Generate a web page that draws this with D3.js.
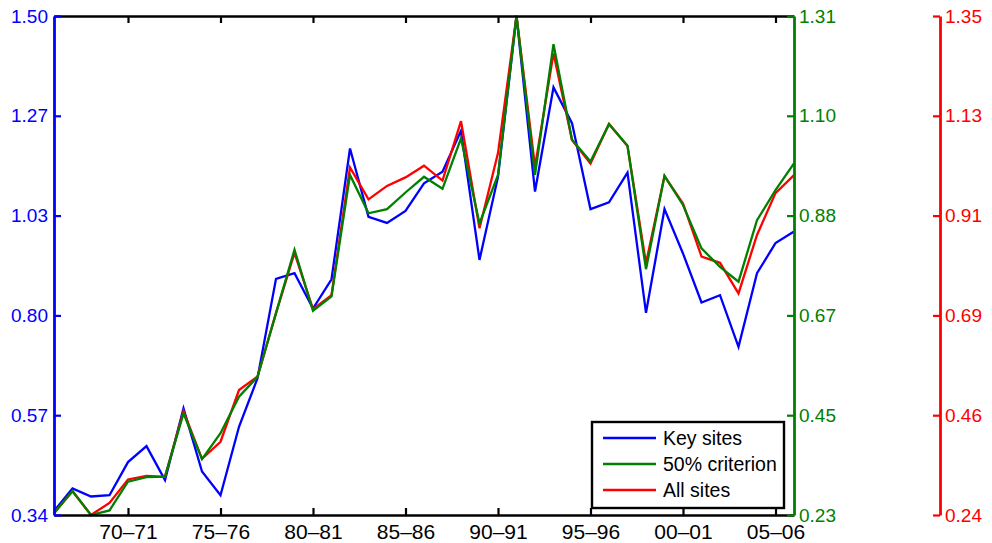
<!DOCTYPE html>
<html><head><meta charset="utf-8">
<script src="https://cdn.jsdelivr.net/npm/d3@7"></script>
<style>body{margin:0;background:#fff}svg{display:block}</style>
</head><body><svg id="c" width="992" height="543"></svg>
<script>
// ---- data ----
const years = d3.range(1966, 2007); // season start years 66–67 ... 06–07
const keySites = [0.349,0.402,0.383,0.386,0.463,0.500,0.421,0.588,0.441,0.386,0.545,0.658,0.889,0.902,0.820,0.888,1.192,1.033,1.019,1.047,1.111,1.138,1.233,0.933,1.126,1.500,1.092,1.334,1.251,1.051,1.067,1.136,0.810,1.051,0.948,0.834,0.851,0.731,0.902,0.972,0.999];
const criterion50 = [0.234,0.282,0.230,0.240,0.302,0.312,0.313,0.450,0.351,0.407,0.486,0.529,0.667,0.804,0.672,0.703,0.966,0.883,0.892,0.928,0.962,0.936,1.045,0.861,0.966,1.310,0.966,1.249,1.042,0.995,1.076,1.029,0.762,0.964,0.901,0.807,0.767,0.735,0.868,0.933,0.991];
const allSites = [0.244,0.293,0.240,0.267,0.319,0.327,0.325,0.471,0.365,0.403,0.518,0.548,0.689,0.823,0.698,0.729,1.013,0.942,0.972,0.991,1.017,0.984,1.116,0.878,1.045,1.350,1.015,1.267,1.074,1.022,1.110,1.061,0.800,0.994,0.933,0.815,0.801,0.733,0.863,0.956,0.996];
const xTickYears = [1970,1975,1980,1985,1990,1995,2000,2005];
const xTickLabels = ["70–71","75–76","80–81","85–86","90–91","95–96","00–01","05–06"];
const blueTickLabels = ["0.34","0.57","0.80","1.03","1.27","1.50"];
const greenTickLabels = ["0.23","0.45","0.67","0.88","1.10","1.31"];
const redTickLabels = ["0.24","0.46","0.69","0.91","1.13","1.35"];
const legendLabels = ["Key sites","50% criterion","All sites"];

// ---- layout ----
const L = 54, R = 794, T = 16, B = 515, RED_X = 940;
const FONT = "'Liberation Sans', Arial, Helvetica, sans-serif";
const BLUE = "#0000ff", GREEN = "#008000", RED = "#ff0000";
const TICK = 7;
const svg = d3.select("#c");

const x = d3.scaleLinear().domain([1966, 2006]).range([L, R]);
const yBlue = d3.scaleLinear().domain([+blueTickLabels[0], +blueTickLabels[5]]).range([B, T]);
const yGreen = d3.scaleLinear().domain([+greenTickLabels[0], +greenTickLabels[5]]).range([B, T]);
const yRed = d3.scaleLinear().domain([+redTickLabels[0], +redTickLabels[5]]).range([B, T]);

function eqTicks(s){ const [a,b]=s.domain(); return d3.range(6).map(k=>a+k*(b-a)/5); }

// data lines
const series = [
  {vals:keySites, y:yBlue, color:BLUE},
  {vals:allSites, y:yRed, color:RED},
  {vals:criterion50, y:yGreen, color:GREEN}
];
series.forEach(s=>{
  const line = d3.line().x((d,i)=>x(years[i])).y(d=>s.y(d));
  svg.append("path").datum(s.vals).attr("d", line)
    .attr("fill","none").attr("stroke", s.color).attr("stroke-width", 2.3)
    .attr("stroke-linejoin","miter");
});

// bottom x axis (ticks inward)
const xb = svg.append("g").attr("transform",`translate(0,${B})`)
  .call(d3.axisBottom(x).tickValues(xTickYears).tickSize(-TICK).tickSizeOuter(0)
    .tickFormat((d,i)=>xTickLabels[i]));
xb.select(".domain").attr("stroke","#000").attr("stroke-width",2.4);
xb.selectAll(".tick line").attr("stroke","#000").attr("stroke-width",2.2);
xb.selectAll(".tick text").attr("font-family",FONT).attr("font-size",21).attr("fill","#000")
  .attr("y",24).attr("dy",null);

// top x axis (ticks inward)
const xt = svg.append("g").attr("transform",`translate(0,${T})`)
  .call(d3.axisTop(x).tickValues(xTickYears).tickSize(-TICK).tickSizeOuter(0).tickFormat(""));
xt.select(".domain").attr("stroke","#000").attr("stroke-width",2.4);
xt.selectAll(".tick line").attr("stroke","#000").attr("stroke-width",2.2);

// left blue axis (ticks inward)
const yl = svg.append("g").attr("transform",`translate(${L},0)`)
  .call(d3.axisLeft(yBlue).tickValues(eqTicks(yBlue)).tickSize(-TICK).tickSizeOuter(0)
    .tickFormat((d,i)=>blueTickLabels[i]));
yl.select(".domain").attr("stroke",BLUE).attr("stroke-width",2.8);
yl.selectAll(".tick line").attr("stroke",BLUE).attr("stroke-width",2.2);
yl.selectAll(".tick text").attr("font-family",FONT).attr("font-size",19).attr("fill",BLUE).attr("x",-6);

// green axis (ticks inward)
const yg = svg.append("g").attr("transform",`translate(${R},0)`)
  .call(d3.axisRight(yGreen).tickValues(eqTicks(yGreen)).tickSize(-TICK).tickSizeOuter(0)
    .tickFormat((d,i)=>greenTickLabels[i]));
yg.select(".domain").attr("stroke",GREEN).attr("stroke-width",2.8);
yg.selectAll(".tick line").attr("stroke",GREEN).attr("stroke-width",2.2);
yg.selectAll(".tick text").attr("font-family",FONT).attr("font-size",19).attr("fill",GREEN).attr("x",5);

// red axis (ticks left)
const yr = svg.append("g").attr("transform",`translate(${RED_X},0)`)
  .call(d3.axisRight(yRed).tickValues(eqTicks(yRed)).tickSize(-TICK).tickSizeOuter(0)
    .tickFormat((d,i)=>redTickLabels[i]));
yr.select(".domain").attr("stroke",RED).attr("stroke-width",2.8);
yr.selectAll(".tick line").attr("stroke",RED).attr("stroke-width",2.2);
yr.selectAll(".tick text").attr("font-family",FONT).attr("font-size",19).attr("fill",RED).attr("x",5);

// legend
const lg = svg.append("g");
lg.append("rect").attr("x",592).attr("y",422).attr("width",192).attr("height",86)
  .attr("fill","#fff").attr("stroke","#000").attr("stroke-width",2.4);
const legColors = [BLUE, GREEN, RED];
legendLabels.forEach((t,i)=>{
  const yy = 438 + i*26;
  lg.append("line").attr("x1",603).attr("x2",656).attr("y1",yy).attr("y2",yy)
    .attr("stroke",legColors[i]).attr("stroke-width",2.3);
  lg.append("text").attr("x",663).attr("y",yy).attr("dy","0.35em")
    .attr("font-family",FONT).attr("font-size",19.5).attr("fill","#000").text(t);
});
</script></body></html>
